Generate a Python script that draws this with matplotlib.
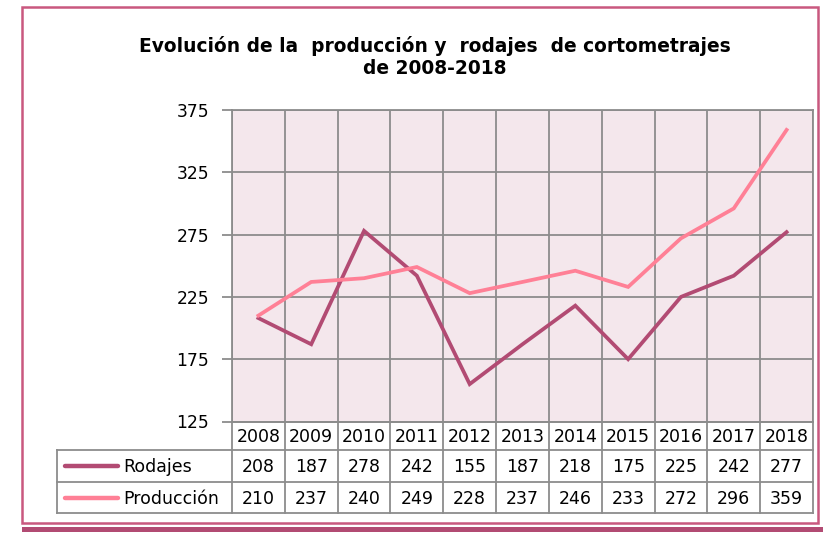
import matplotlib
matplotlib.use("Agg")
import matplotlib.pyplot as plt
from matplotlib.patches import Rectangle

years = ["2008", "2009", "2010", "2011", "2012", "2013", "2014", "2015", "2016", "2017", "2018"]
rodajes = [208, 187, 278, 242, 155, 187, 218, 175, 225, 242, 277]
produccion = [210, 237, 240, 249, 228, 237, 246, 233, 272, 296, 359]
series_names = ["Rodajes", "Producción"]
yticks = [125, 175, 225, 275, 325, 375]
title = "Evolución de la  producción y  rodajes  de cortometrajes\nde 2008-2018"

C_ROD = "#b24b73"
C_PROD = "#ff8096"
GRID = "#8c8c8c"
BG = "#f4e7ec"
FRAME = "#c9587f"

W, H = 827, 533
fig = plt.figure(figsize=(W / 100, H / 100), dpi=100)
plt.rcParams['font.family'] = ['DejaVu Sans']

# pixel-based overlay axes
ov = fig.add_axes([0, 0, 1, 1], zorder=0)
ov.set_xlim(0, W)
ov.set_ylim(H, 0)
ov.axis("off")

# geometry (pixels)
L, R = 232, 813
T, B = 110, 421.5
leg_left = 57
row_y = [B, 450, 482, 513]

ax = fig.add_axes([L / W, 1 - B / H, (R - L) / W, (B - T) / H], zorder=2)
ax.set_facecolor(BG)
n = len(years)
xs = [i + 0.5 for i in range(n)]
ax.plot(xs, rodajes, color=C_ROD, lw=2.7, solid_joinstyle="miter", zorder=3)
ax.plot(xs, produccion, color=C_PROD, lw=2.7, solid_joinstyle="miter", zorder=3)
ax.set_xlim(0, n)
ax.set_ylim(yticks[0], yticks[-1])
ax.set_yticks(yticks)
ax.set_yticklabels([str(v) for v in yticks], fontsize=12.3)
ax.set_xticks(range(n + 1))
ax.tick_params(axis="x", length=0, labelbottom=False)
ax.tick_params(axis="y", length=7, width=1.3, color=GRID, pad=9.5)
ax.grid(True, color=GRID, lw=1.3)
ax.set_axisbelow(True)
for s in ax.spines.values():
    s.set_color(GRID)
    s.set_linewidth(1.3)

# table
cw = (R - L) / n
tkw = dict(color=GRID, lw=1.3)
ov.plot([L, R], [row_y[0], row_y[0]], **tkw)
for y in row_y[1:]:
    ov.plot([leg_left, R], [y, y], **tkw)
for k in range(n + 1):
    x = L + k * cw
    ov.plot([x, x], [row_y[0], row_y[3]], **tkw)
ov.plot([leg_left, leg_left], [row_y[1], row_y[3]], **tkw)

fs = 12.5
for i, yr in enumerate(years):
    cx = L + (i + 0.5) * cw
    ov.text(cx, (row_y[0] + row_y[1]) / 2 + 1, yr, ha="center", va="center", fontsize=fs)
    ov.text(cx, (row_y[1] + row_y[2]) / 2 + 1, str(rodajes[i]), ha="center", va="center", fontsize=fs)
    ov.text(cx, (row_y[2] + row_y[3]) / 2 + 1, str(produccion[i]), ha="center", va="center", fontsize=fs)

for j, (name, col) in enumerate(zip(series_names, [C_ROD, C_PROD])):
    cy = (row_y[j + 1] + row_y[j + 2]) / 2
    ov.plot([65, 118], [cy, cy], color=col, lw=3.2, solid_capstyle="round")
    ov.text(123, cy + 1, name, ha="left", va="center", fontsize=fs)

# title
ov.text(435, 57, title, ha="center", va="center", fontsize=13.4, fontweight="bold",
        linespacing=1.2)

# frame
ov.add_patch(Rectangle((22, 6.5), 818 - 22, 523 - 6.5, fill=False, ec=FRAME, lw=1.8))
ov.add_patch(Rectangle((22, 526.5), 823 - 22, 5, fill=True, fc=C_ROD, ec="none"))

fig.savefig("out.png", dpi=100)
